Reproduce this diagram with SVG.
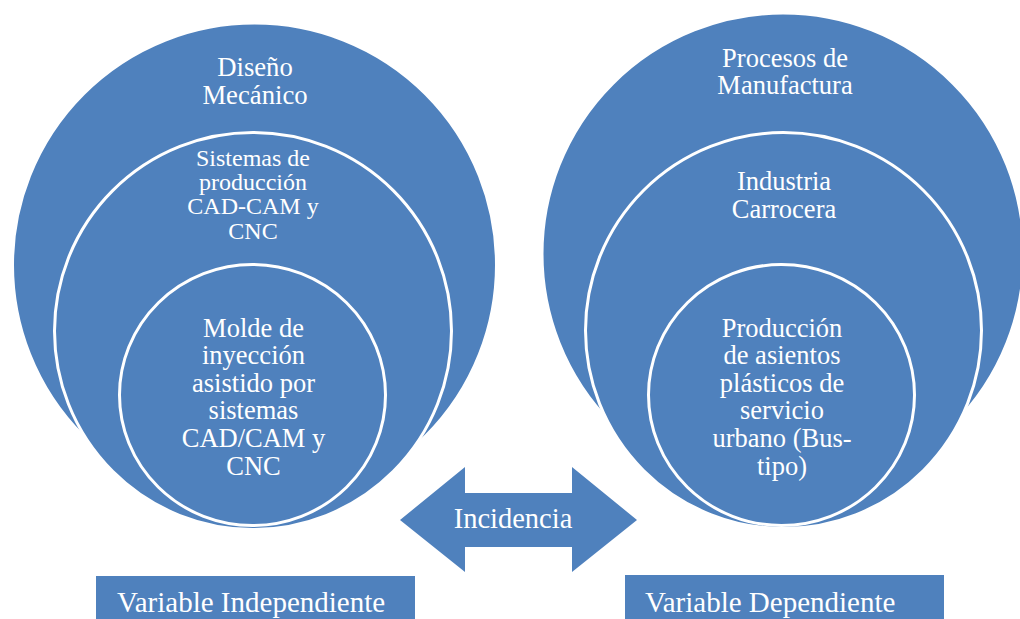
<svg xmlns="http://www.w3.org/2000/svg" width="1020" height="619" viewBox="0 0 1020 619">
<style>
.c{fill:#4F81BD;stroke:#FFFFFF;stroke-width:3}
.t{font-family:"Liberation Serif","Times New Roman",serif;fill:#FFFFFF;text-anchor:middle}
.s{font-family:"Liberation Serif","Times New Roman",serif;fill:#FFFFFF}
</style>
<rect width="1020" height="619" fill="#FFFFFF"/>
<g id="left-outer">
<circle class="c" cx="254.5" cy="265" r="242"/>
<text class="t" font-size="26.7" x="255" y="76">Diseño</text>
<text class="t" font-size="26.7" x="255" y="104">Mecánico</text>
</g>
<g id="left-middle">
<circle class="c" cx="253" cy="331" r="198.5"/>
<text class="t" font-size="24" x="253" y="166">Sistemas de</text>
<text class="t" font-size="24" x="253" y="190">producción</text>
<text class="t" font-size="24" x="253" y="214">CAD-CAM y</text>
<text class="t" font-size="24" x="253" y="239">CNC</text>
</g>
<g id="left-inner">
<ellipse class="c" cx="252.5" cy="395" rx="133" ry="130.5"/>
<text class="t" font-size="26.5" x="253.5" y="337">Molde de</text>
<text class="t" font-size="26.5" x="253.5" y="364">inyección</text>
<text class="t" font-size="26.5" x="253.5" y="392">asistido por</text>
<text class="t" font-size="26.5" x="253.5" y="419">sistemas</text>
<text class="t" font-size="26.5" x="253.5" y="447">CAD/CAM y</text>
<text class="t" font-size="26.5" x="253.5" y="475">CNC</text>
</g>
<g id="right-outer">
<circle class="c" cx="783" cy="254" r="241"/>
<text class="t" font-size="26.5" x="785" y="67">Procesos de</text>
<text class="t" font-size="26.5" x="785" y="94">Manufactura</text>
</g>
<g id="right-middle">
<circle class="c" cx="783.5" cy="330.5" r="198"/>
<text class="t" font-size="26.5" x="784" y="190">Industria</text>
<text class="t" font-size="26.5" x="784" y="218">Carrocera</text>
</g>
<g id="right-inner">
<ellipse class="c" cx="781.5" cy="395" rx="133" ry="130.5"/>
<text class="t" font-size="26.5" x="782" y="337">Producción</text>
<text class="t" font-size="26.5" x="782" y="364">de asientos</text>
<text class="t" font-size="26.5" x="782" y="392">plásticos de</text>
<text class="t" font-size="26.5" x="782" y="419">servicio</text>
<text class="t" font-size="26.5" x="782" y="447">urbano (Bus-</text>
<text class="t" font-size="26.5" x="782" y="475">tipo)</text>
</g>
<g id="connectors">
<g id="incidencia">
<path d="M400,520 L465,467 L465,493 L572,493 L572,467 L637,520 L572,572 L572,547 L465,547 L465,572 Z" fill="#4F81BD"/>
<text class="t" font-size="28.5" x="513" y="528">Incidencia</text>
</g>
</g>
<g id="var-independiente">
<rect x="96" y="576" width="319" height="50" fill="#4F81BD"/>
<text class="s" font-size="29" x="117" y="612">Variable Independiente</text>
</g>
<g id="var-dependiente">
<rect x="625" y="575" width="319" height="50" fill="#4F81BD"/>
<text class="s" font-size="29" x="645" y="612">Variable Dependiente</text>
</g>
</svg>
